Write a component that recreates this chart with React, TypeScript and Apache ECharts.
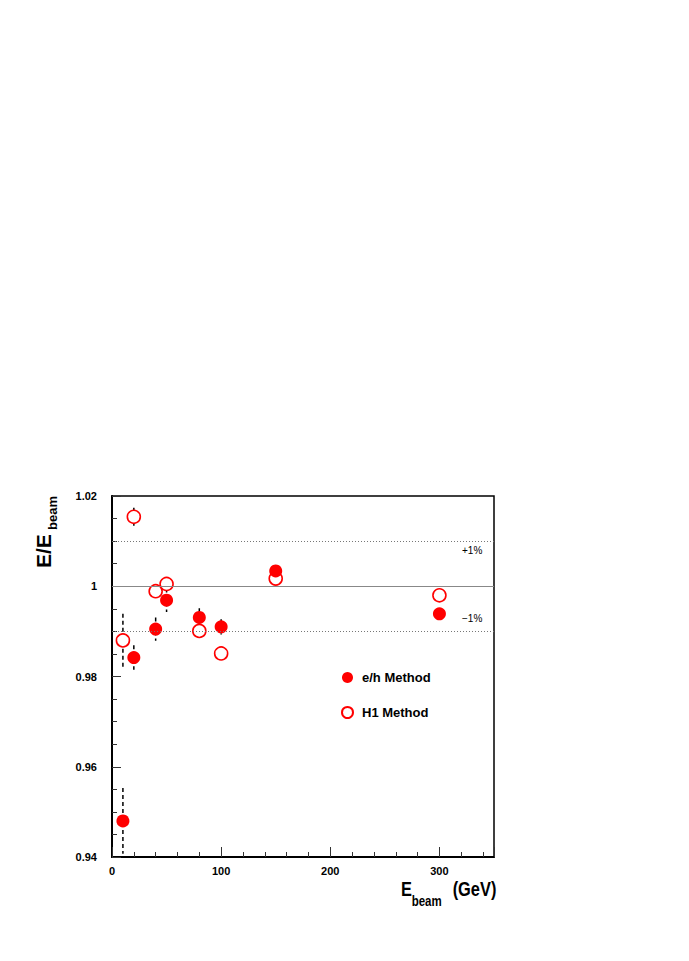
import React, { useEffect, useRef } from "react";
import * as echarts from "echarts";

const energies = [10, 20, 40, 50, 80, 100, 150, 300];
const ehValues = [0.948, 0.9842, 0.9905, 0.9969, 0.9931, 0.991, 1.0034, 0.9939];
const ehErrors = [0.0073, 0.0027, 0.0026, 0.0026, 0.002, 0.0017, 0.001, 0.001];
const h1Values = [0.988, 1.0154, 0.9989, 1.0005, 0.9901, 0.9851, 1.0017, 0.998];
const h1Errors = [0.0059, 0.002, 0.001, 0.001, 0.001, 0.001, 0.001, 0.001];
const refLines = [1.0, 1.01, 0.99];
const refLabels = ["+1%", "\u22121%"];

const FONT = "Liberation Sans, Arial, Helvetica, sans-serif";

export default function App() {
  const ref = useRef<HTMLDivElement>(null);
  useEffect(() => {
    if (!ref.current) return;
    const chart = echarts.init(ref.current, undefined, { renderer: "svg" });
    const errData = [
      ...energies.map((x, i) => [x, ehValues[i], ehErrors[i]]),
      ...energies.map((x, i) => [x, h1Values[i], h1Errors[i]]),
    ];
    const option: any = {
      animation: false,
      backgroundColor: "#fff",
      textStyle: { fontFamily: FONT },
      grid: {
        left: 112,
        top: 496,
        right: 195,
        bottom: 104,
        show: true,
        borderColor: "#000",
        borderWidth: 1.5,
        backgroundColor: "transparent",
      },
      xAxis: {
        type: "value",
        min: 0,
        max: 350,
        interval: 100,
        axisLine: { show: true, onZero: false, lineStyle: { color: "#000", width: 2 } },
        axisTick: { show: true, inside: true, length: 10, lineStyle: { color: "#333", width: 1 } },
        minorTick: { show: true, splitNumber: 5, length: 5, lineStyle: { color: "#333", width: 1 } },
        splitLine: { show: false },
        axisLabel: {
          color: "#000",
          fontWeight: "bold",
          fontSize: 11,
          fontFamily: FONT,
          margin: 8,
          showMaxLabel: false,
        },
      },
      yAxis: {
        type: "value",
        min: 0.94,
        max: 1.02,
        interval: 0.02,
        axisLine: { show: true, onZero: false, lineStyle: { color: "#000", width: 2 } },
        axisTick: { show: true, inside: true, length: 9, lineStyle: { color: "#333", width: 1 } },
        minorTick: { show: true, splitNumber: 4, length: 5, lineStyle: { color: "#333", width: 1 } },
        splitLine: { show: false },
        axisLabel: {
          color: "#000",
          fontWeight: "bold",
          fontSize: 11,
          fontFamily: FONT,
          margin: 15,
          formatter: (v: number) => String(Number(v.toFixed(2))),
        },
      },
      legend: {
        orient: "vertical",
        left: 336,
        top: 666,
        itemWidth: 11,
        itemHeight: 11,
        itemGap: 22,
        icon: "circle",
        data: ["e/h Method", "H1 Method"],
        textStyle: { color: "#000", fontWeight: "bold", fontSize: 13, fontFamily: FONT, padding: [0, 0, 0, 4] },
      },
      series: [
        {
          type: "custom",
          name: "errors",
          z: 1,
          clip: true,
          data: errData,
          renderItem: (params: any, api: any) => {
            const x = api.value(0);
            const y = api.value(1);
            const e = api.value(2);
            const p1 = api.coord([x, y + e]);
            const p2 = api.coord([x, y - e]);
            return {
              type: "line",
              shape: { x1: p1[0], y1: p1[1], x2: p2[0], y2: p2[1] },
              style: { stroke: "#000", lineWidth: 1.5, lineDash: [4, 3] },
            };
          },
          markLine: {
            silent: true,
            symbol: "none",
            label: { show: false },
            data: [
              { yAxis: refLines[0], lineStyle: { color: "#888", width: 1, type: "solid" } },
              { yAxis: refLines[1], lineStyle: { color: "#777", width: 1, type: [1, 2] } },
              { yAxis: refLines[2], lineStyle: { color: "#777", width: 1, type: [1, 2] } },
            ],
          },
        },
        {
          type: "scatter",
          name: "H1 Method",
          z: 2,
          symbol: "circle",
          symbolSize: 13,
          data: energies.map((x, i) => [x, h1Values[i]]),
          itemStyle: { color: "#fff", borderColor: "#ff0000", borderWidth: 1.6, opacity: 1 },
        },
        {
          type: "scatter",
          name: "e/h Method",
          z: 3,
          symbol: "circle",
          symbolSize: 13,
          data: energies.map((x, i) => [x, ehValues[i]]),
          itemStyle: { color: "#ff0000", opacity: 1 },
        },
      ],
      graphic: [
        {
          type: "text",
          left: 462,
          top: 545,
          style: { text: refLabels[0], fontSize: 10, fill: "#000", fontFamily: FONT },
        },
        {
          type: "text",
          left: 462,
          top: 613,
          style: { text: refLabels[1], fontSize: 10, fill: "#000", fontFamily: FONT },
        },
        {
          type: "group",
          x: 54,
          y: 568,
          rotation: Math.PI / 2,
          children: [
            {
              type: "text",
              x: 0,
              y: 0,
              style: {
                text: "E/E",
                fontSize: 21,
                fontWeight: "bold",
                fill: "#000",
                fontFamily: FONT,
                textVerticalAlign: "bottom",
                textAlign: "left",
              },
            },
            {
              type: "text",
              x: 38,
              y: 5,
              style: {
                text: "beam",
                fontSize: 13,
                fontWeight: "bold",
                fill: "#000",
                fontFamily: FONT,
                textVerticalAlign: "bottom",
                textAlign: "left",
              },
            },
          ],
        },
        {
          type: "group",
          x: 401,
          y: 899,
          scaleX: 0.82,
          children: [
            {
              type: "text",
              x: 0,
              y: 0,
              style: {
                text: "E",
                fontSize: 20,
                fontWeight: "bold",
                fill: "#000",
                fontFamily: FONT,
                textVerticalAlign: "bottom",
              },
            },
            {
              type: "text",
              x: 13,
              y: 9,
              style: {
                text: "beam",
                fontSize: 14,
                fontWeight: "bold",
                fill: "#000",
                fontFamily: FONT,
                textVerticalAlign: "bottom",
              },
            },
            {
              type: "text",
              x: 63,
              y: 0,
              style: {
                text: "(GeV)",
                fontSize: 20,
                fontWeight: "bold",
                fill: "#000",
                fontFamily: FONT,
                textVerticalAlign: "bottom",
              },
            },
          ],
        },
      ],
    };
    chart.setOption(option);
    return () => chart.dispose();
  }, []);
  return (
    <div
      ref={ref}
      style={{ position: "absolute", left: 0, top: 0, width: 689, height: 961 }}
    />
  );
}
